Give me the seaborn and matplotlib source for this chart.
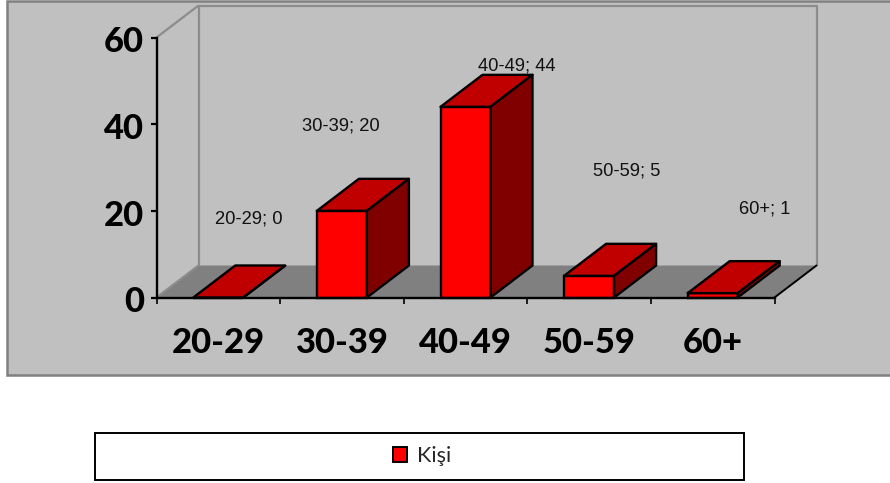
import matplotlib
matplotlib.use("Agg")
import matplotlib.pyplot as plt
from matplotlib.patches import Polygon, Rectangle
from matplotlib.transforms import ScaledTranslation
import pandas as pd
import seaborn as sns

categories = ["20-29", "30-39", "40-49", "50-59", "60+"]
values = [0, 20, 44, 5, 1]
series_name = "Kişi"
y_ticks = [0, 20, 40, 60]

# style / layout (pixels)
W, H = 890, 483
label_offsets_px = [(30, 79), (-1, 85), (51, 41), (38, 105), (52, 84)]
LEFT, RIGHT, TOP, BOTTOM = 156.5, 774.5, 37.5, 297.5
DEPTH_X_PX, DEPTH_Y_PX = 42, 32
BG, FRONT, TOPC, SIDE, FLOOR, WALL = "#C0C0C0", "#FF0000", "#C00000", "#800000", "#808080", "#8C8C8C"

sns.set_theme(style="white")
plt.rcParams["font.family"] = ["Lato", "DejaVu Sans"]

fig = plt.figure(figsize=(W / 100, H / 100), dpi=100, facecolor="white")
fig.add_artist(Rectangle((7 / W, 1 - 375 / H), 890 / W, 374 / H, transform=fig.transFigure,
                         facecolor=BG, edgecolor="#808080", linewidth=1.8, zorder=-2))

ax = fig.add_axes([LEFT / W, 1 - BOTTOM / H, (RIGHT - LEFT) / W, (BOTTOM - TOP) / H], zorder=2)
ax.patch.set_alpha(0)

df = pd.DataFrame({"Yaş": categories, series_name: values})
sns.barplot(data=df, x="Yaş", y=series_name, color=FRONT, saturation=1, width=50 / 123.6,
            edgecolor="black", linewidth=1.7, ax=ax, zorder=3, clip_on=False)
ax.set_xlim(-0.5, len(categories) - 0.5)
ax.set_ylim(0, max(y_ticks))

dx = DEPTH_X_PX / ((RIGHT - LEFT) / len(categories))
dy = DEPTH_Y_PX / ((BOTTOM - TOP) / max(y_ticks))
x0, x1 = ax.get_xlim()
y1 = max(y_ticks)

# walls and floor
ax.add_patch(Polygon([(x0, 0), (x1, 0), (x1 + dx, dy), (x0 + dx, dy)], facecolor=FLOOR,
                     edgecolor="none", zorder=1, clip_on=False))
wall_kw = dict(color=WALL, lw=1.6, zorder=1.5, clip_on=False, solid_capstyle="butt")
ax.plot([x0 + dx, x0 + dx, x1 + dx, x1 + dx], [dy, y1 + dy, y1 + dy, dy], **wall_kw)
ax.plot([x0, x0 + dx], [y1, y1 + dy], **wall_kw)
ax.plot([x0, x0 + dx], [0, dy], **wall_kw)
ax.plot([x1, x1 + dx], [0, dy], color="black", lw=1.4, zorder=1.6, clip_on=False)

# 3D faces built from the bars seaborn drew
for bar in list(ax.patches):
    if not isinstance(bar, Rectangle):
        continue
    bx, bw, bh = bar.get_x(), bar.get_width(), bar.get_height()
    ax.add_patch(Polygon([(bx, bh), (bx + bw, bh), (bx + bw + dx, bh + dy), (bx + dx, bh + dy)],
                         facecolor=TOPC, edgecolor="black", lw=1.7, joinstyle="round",
                         zorder=3, clip_on=False))
    ax.add_patch(Polygon([(bx + bw, 0), (bx + bw + dx, dy), (bx + bw + dx, bh + dy), (bx + bw, bh)],
                         facecolor=SIDE, edgecolor="black", lw=1.7, joinstyle="round",
                         zorder=3, clip_on=False))

# data labels
for i, (cat, val, off) in enumerate(zip(categories, values, label_offsets_px)):
    ax.annotate(f"{cat}; {val}", xy=(i, val), xytext=(off[0] * 0.72, off[1] * 0.72),
                textcoords="offset points", ha="center", va="center", fontsize=13.2,
                color="#111111", family=["Liberation Sans", "DejaVu Sans"],
                zorder=6, annotation_clip=False)

# axes
sns.despine(ax=ax, top=True, right=True)
for side in ("left", "bottom"):
    ax.spines[side].set_color("black")
    ax.spines[side].set_linewidth(1.7)
    ax.spines[side].set_zorder(5)
ax.set_xlabel("")
ax.set_ylabel("")
ax.set_yticks(y_ticks)
ax.set_xticks(range(len(categories)))
ax.set_xticklabels(categories)
ax.set_xticks([x0 + k for k in range(len(categories) + 1)], minor=True)
ax.tick_params(axis="x", which="major", length=0, pad=21, labelsize=24.8, labelcolor="black")
ax.tick_params(axis="x", which="minor", length=4, width=1.2, color="black", bottom=True)
ax.tick_params(axis="y", which="major", left=True, length=4, width=1.6, color="black", pad=5,
               labelsize=24.8, labelcolor="black")
for lab in ax.get_xticklabels() + ax.get_yticklabels():
    lab.set_fontweight(900)
for lab in ax.get_yticklabels():
    lab.set_transform(lab.get_transform() + ScaledTranslation(0, -2 / 100, fig.dpi_scale_trans))

# legend
fig.add_artist(Rectangle((95 / W, 1 - 480 / H), 649 / W, 47 / H, transform=fig.transFigure,
                         facecolor="white", edgecolor="black", linewidth=1.4, zorder=-1))
handle = Rectangle((0, 0), 1, 1, facecolor=FRONT, edgecolor="black", linewidth=1.4)
leg = fig.legend([handle], [series_name], loc="center", bbox_to_anchor=(422 / W, 1 - 456 / H),
                 frameon=False, fontsize=15.5, handlelength=0.65, handleheight=0.75, handletextpad=0.45)

fig.savefig("out.png", dpi=100, facecolor="white")
